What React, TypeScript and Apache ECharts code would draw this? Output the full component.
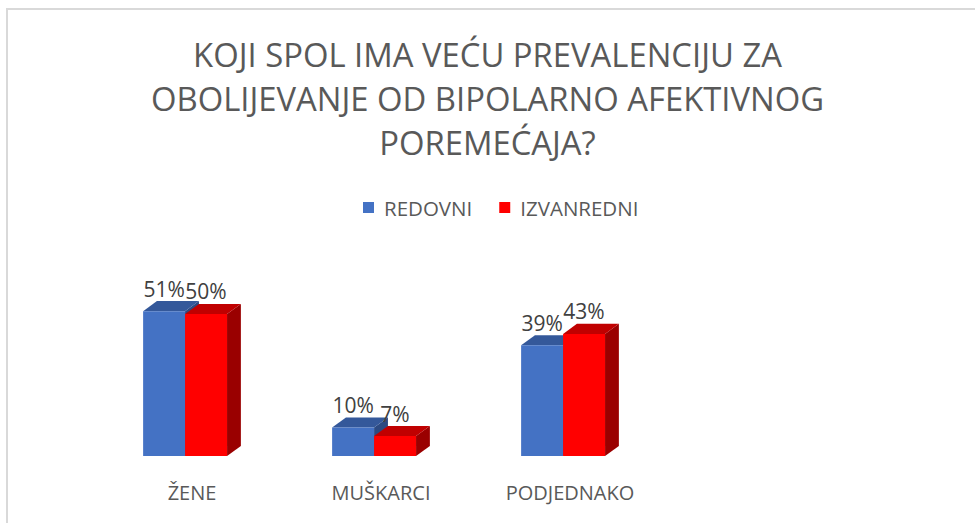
import React, { useEffect, useRef } from "react";
import * as echarts from "echarts";

const titleText = "KOJI SPOL IMA VEĆU PREVALENCIJU ZA\nOBOLIJEVANJE OD BIPOLARNO AFEKTIVNOG\nPOREMEĆAJA?";
const categories = ["ŽENE", "MUŠKARCI", "PODJEDNAKO"];
const seriesNames = ["REDOVNI", "IZVANREDNI"];
const redovni = [51, 10, 39];
const izvanredni = [50, 7, 43];

const faceColors = [
  { front: "#4472C4", top: "#34589A", side: "#2C4A82" },
  { front: "#FF0000", top: "#C00000", side: "#9A0000" },
];

const FONT = "'Open Sans', sans-serif";

function makeRender(idx: number) {
  return (params: any, api: any) => {
    const cat = api.value(0);
    const val = api.value(1);
    const base = api.coord([cat, 0]);
    const top = api.coord([cat, val]);
    const band = api.size([1, 0])[0];
    const bw = band * 0.222;
    const dx = bw * 0.33;
    const dy = bw * 0.24;
    const gc = base[0] - dx / 2;
    const x0 = gc - bw + idx * bw;
    const x1 = x0 + bw;
    const c = faceColors[idx];
    return {
      type: "group",
      children: [
        {
          type: "polygon",
          shape: { points: [[x1, top[1]], [x1 + dx, top[1] - dy], [x1 + dx, base[1] - dy], [x1, base[1]]] },
          style: { fill: c.side },
        },
        {
          type: "polygon",
          shape: { points: [[x0, top[1]], [x1, top[1]], [x1 + dx, top[1] - dy], [x0 + dx, top[1] - dy]] },
          style: { fill: c.top },
        },
        {
          type: "rect",
          shape: { x: x0, y: top[1], width: bw, height: base[1] - top[1] },
          style: { fill: c.front },
        },
        {
          type: "text",
          style: {
            text: val + "%",
            x: (x0 + x1) / 2,
            y: top[1] - dy - 2,
            align: "center",
            verticalAlign: "bottom",
            fill: "#404040",
            font: "21px " + FONT,
          },
        },
      ],
    };
  };
}

export default function App() {
  const ref = useRef<HTMLDivElement>(null);
  useEffect(() => {
    const chart = echarts.init(ref.current!, null, { renderer: "svg" });
    const datasets = [redovni, izvanredni];
    chart.setOption({
      animation: false,
      backgroundColor: "#ffffff",
      title: {
        text: titleText,
        left: "center",
        top: 27,
        textStyle: { fontFamily: FONT, fontSize: 32.8, fontWeight: "normal", color: "#595959", lineHeight: 44 },
      },
      legend: {
        top: 192,
        left: 358,
        icon: "rect",
        itemWidth: 11,
        itemHeight: 11,
        itemGap: 27,
        data: seriesNames,
        textStyle: { fontFamily: FONT, fontSize: 20.5, color: "#595959", padding: [0, 0, 0, 5] },
      },
      graphic: [
        {
          type: "rect",
          shape: { x: 7, y: 9, width: 1100, height: 700 },
          style: { fill: "none", stroke: "#d9d9d9", lineWidth: 2 },
          silent: true,
        },
      ],
      grid: { left: 97.5, right: 310.5, top: 285.6, bottom: 67 },
      xAxis: {
        type: "category",
        data: categories,
        axisLine: { show: false },
        axisTick: { show: false },
        axisLabel: { fontFamily: FONT, fontSize: 20, color: "#595959", margin: 26 },
      },
      yAxis: { type: "value", min: 0, max: 60, show: false, splitLine: { show: false } },
      series: datasets.map((d, i) => ({
        type: "custom",
        name: seriesNames[i],
        itemStyle: { color: faceColors[i].front },
        renderItem: makeRender(i),
        encode: { x: 0, y: 1 },
        data: d.map((v, j) => [j, v]),
      })),
    });
    return () => chart.dispose();
  }, []);
  return <div ref={ref} style={{ position: "absolute", left: 0, top: 0, width: 975, height: 523 }} />;
}
